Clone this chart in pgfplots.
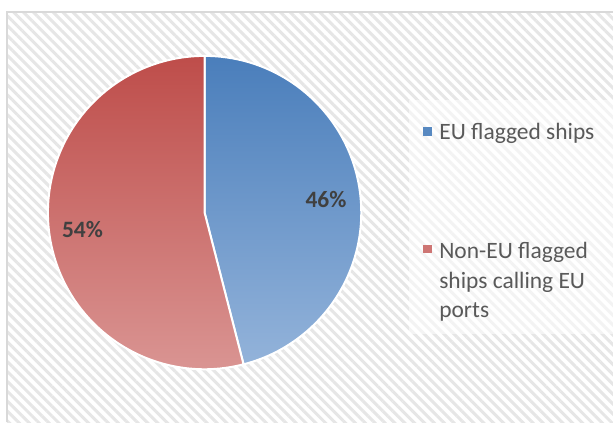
\documentclass[border=0pt]{standalone}
\usepackage{pgfplots}
\pgfplotsset{compat=1.18}
\usepackage{pgfplotstable}
\usetikzlibrary{patterns.meta}
\usepackage{fontspec}
\setmainfont{Carlito}
\definecolor{bluetop}{HTML}{4A7EBB}
\definecolor{bluebot}{HTML}{93B3DA}
\definecolor{redtop}{HTML}{BE4D4A}
\definecolor{redbot}{HTML}{DB9896}
\definecolor{lbl}{HTML}{404040}
\definecolor{legtxt}{HTML}{595959}
\definecolor{frame}{HTML}{D9D9D9}
\definecolor{hatch}{HTML}{E6E6E6}
\pgfplotstableread{
share
46
54
}\piedata
\pgfplotstablegetelem{0}{share}\of\piedata \let\valA\pgfplotsretval
\pgfplotstablegetelem{1}{share}\of\piedata \let\valB\pgfplotsretval
\begin{document}
\begin{tikzpicture}
\begin{axis}[
  width=614pt, height=423pt, scale only axis,
  xmin=0, xmax=614, ymin=0, ymax=423,
  hide axis, clip=false,
]
% page and chart background
\fill[white] (axis cs:0,0) rectangle (axis cs:614,423);
\fill[pattern={Lines[angle=-45,distance=7pt,line width=3pt]}, pattern color=hatch]
  (axis cs:7,0) rectangle (axis cs:614,411);
\draw[frame, line width=2.5pt] (axis cs:7.2,0) -- (axis cs:7.2,410.8) -- (axis cs:614,410.8);
% legend box
\fill[white, opacity=0.55] (axis cs:410,88) rectangle (axis cs:614,323);
% pie
\pgfmathsetmacro{\angA}{90-3.6*\valA}
\fill[top color=bluetop, bottom color=bluebot, draw=white, line width=2pt]
  (axis cs:205,210) -- (axis cs:205,367) arc[start angle=90, end angle=\angA, radius=157pt] -- cycle;
\fill[top color=redtop, bottom color=redbot, draw=white, line width=2pt]
  (axis cs:205,210) -- ++(\angA:157pt) arc[start angle=\angA, end angle=-270, radius=157pt] -- cycle;
% labels
\node[anchor=base west, inner sep=0pt, text=lbl, font=\fontsize{23.5}{28}\selectfont\bfseries]
  at (axis cs:306,215) {\valA\%};
\node[anchor=base west, inner sep=0pt, text=lbl, font=\fontsize{23.5}{28}\selectfont\bfseries]
  at (axis cs:62,185) {\valB\%};
% legend
\fill[bluetop!80!bluebot] (axis cs:424,287) rectangle (axis cs:433,296);
\fill[redtop!45!redbot] (axis cs:424,169) rectangle (axis cs:433,178);
\node[anchor=base west, inner sep=0pt, text=legtxt, font=\fontsize{23.5}{28}\selectfont]
  at (axis cs:440,283) {EU flagged ships};
\node[anchor=base west, inner sep=0pt, text=legtxt, font=\fontsize{23.5}{28}\selectfont]
  at (axis cs:440,164) {Non-EU flagged};
\node[anchor=base west, inner sep=0pt, text=legtxt, font=\fontsize{23.5}{28}\selectfont]
  at (axis cs:440,134) {ships calling EU};
\node[anchor=base west, inner sep=0pt, text=legtxt, font=\fontsize{23.5}{28}\selectfont]
  at (axis cs:440,105) {ports};
\end{axis}
\end{tikzpicture}
\end{document}
